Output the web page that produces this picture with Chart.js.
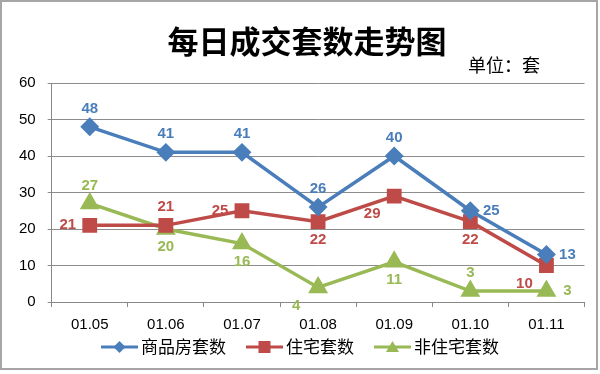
<!DOCTYPE html>
<html>
<head>
<meta charset="utf-8">
<script src="https://cdn.jsdelivr.net/npm/chart.js@4"></script>
<style>
  body { margin: 0; background: #fff; }
  #wrap { width: 598px; height: 370px; box-sizing: border-box; border: 2px solid #a6a6a6; background: #fff; }
</style>
</head>
<body>
<div id="wrap"><canvas id="myChart" width="594" height="366"></canvas></div>
<script>
var categories = ["01.05", "01.06", "01.07", "01.08", "01.09", "01.10", "01.11"];
var shangpinfang = [48, 41, 41, 26, 40, 25, 13];
var zhuzhai = [21, 21, 25, 22, 29, 22, 10];
var feizhuzhai = [27, 20, 16, 4, 11, 3, 3];
var yTicks = [0, 10, 20, 30, 40, 50, 60];

// where each data label sits: a = above, b = below, l = left, r = right
var labelPos = [
  ["a", "a", "a", "a", "a", "r", "r"],
  ["l", "a", "l", "b", "bl", "b", "bl"],
  ["a", "b", "b", "bl", "b", "a", "r"]
];

var blue = "#4a7ebb", red = "#be4b48", green = "#98b954";
var font = "'Liberation Sans', Arial, sans-serif";
var cjk = "'Noto Sans CJK SC', sans-serif";

function drawMarker(ctx, style, x, y) {
  ctx.beginPath();
  if (style == "rectRot") {
    ctx.moveTo(x, y - 6); ctx.lineTo(x + 6, y); ctx.lineTo(x, y + 6); ctx.lineTo(x - 6, y);
  } else if (style == "rect") {
    ctx.rect(x - 6, y - 6, 12, 12);
  } else {
    ctx.moveTo(x, y - 6); ctx.lineTo(x + 6.5, y + 5); ctx.lineTo(x - 6.5, y + 5);
  }
  ctx.closePath(); ctx.fill();
}

var labelPlugin = {
  id: "pointLabels",
  afterDatasetsDraw: function(chart) {
    var ctx = chart.ctx;
    ctx.save();
    ctx.font = "bold 15px " + font;
    ctx.textAlign = "center";
    ctx.textBaseline = "middle";
    chart.data.datasets.forEach(function(ds, i) {
      var meta = chart.getDatasetMeta(i);
      ctx.fillStyle = ds.borderColor;
      meta.data.forEach(function(pt, j) {
        var p = labelPos[i][j], x = pt.x, y = pt.y;
        if (p.indexOf("a") >= 0) y -= 18;
        if (p.indexOf("b") >= 0) y += 18;
        if (p.indexOf("l") >= 0) x -= 22;
        if (p.indexOf("r") >= 0) x += 21;
        ctx.fillText(ds.data[j], x, y);
      });
    });
    ctx.restore();
  }
};

// title, unit note and the line+marker legend at the bottom
var textPlugin = {
  id: "titleLegend",
  afterDraw: function(chart) {
    var ctx = chart.ctx;
    ctx.save();
    ctx.fillStyle = "#000";
    ctx.textBaseline = "middle";
    ctx.textAlign = "center";
    ctx.font = "bold 31px " + cjk;
    ctx.fillText("每日成交套数走势图", 305, 39);
    ctx.textAlign = "left";
    ctx.font = "18px " + cjk;
    ctx.fillText("单位：套", 466, 63);

    ctx.font = "17px " + cjk;
    var ds = chart.data.datasets;
    var iconW = 37, gap = 3, itemGap = 20;
    var total = 0;
    ds.forEach(function(d, i) {
      total += iconW + gap + ctx.measureText(d.label).width + (i < ds.length - 1 ? itemGap : 0);
    });
    var x = 298 - total / 2, y = 345;
    ds.forEach(function(d) {
      ctx.strokeStyle = d.borderColor;
      ctx.fillStyle = d.borderColor;
      ctx.lineWidth = 3;
      ctx.beginPath(); ctx.moveTo(x, y); ctx.lineTo(x + iconW, y); ctx.stroke();
      drawMarker(ctx, d.pointStyle, x + iconW / 2, y);
      x += iconW + gap;
      ctx.fillStyle = "#000";
      ctx.fillText(d.label, x, y);
      x += ctx.measureText(d.label).width + itemGap;
    });
    ctx.restore();
  }
};

var data = {
  labels: categories,
  datasets: [
    {
      label: "商品房套数",
      data: shangpinfang,
      borderColor: blue,
      backgroundColor: blue,
      borderWidth: 3.5,
      pointStyle: "rectRot",
      pointRadius: 7,
      pointHoverRadius: 7,
    },
    {
      label: "住宅套数",
      data: zhuzhai,
      borderColor: red,
      backgroundColor: red,
      borderWidth: 3.5,
      pointStyle: "rect",
      pointRadius: 8,
      pointHoverRadius: 8,
    },
    {
      label: "非住宅套数",
      data: feizhuzhai,
      borderColor: green,
      backgroundColor: green,
      borderWidth: 3.5,
      pointStyle: "triangle",
      pointRadius: 8,
      pointHoverRadius: 8,
    },
  ],
};

var options = {
  responsive: false,
  animation: false,
  layout: { padding: { top: 81, left: 5, right: 9, bottom: 32 } },
  scales: {
    x: {
      offset: true,
      afterFit: function(axis) { axis.height = 34; },
      grid: { offset: true, drawOnChartArea: false, color: "#888", tickLength: 5 },
      border: { color: "#888", width: 1 },
      ticks: { color: "#000", font: { size: 15, family: font }, padding: 9, maxRotation: 0 },
    },
    y: {
      min: 0,
      max: 60,
      afterBuildTicks: function(axis) {
        axis.ticks = yTicks.map(function(v) { return { value: v }; });
      },
      grid: { color: "#8c8c8c", lineWidth: 1, tickLength: 4 },
      border: { color: "#888", width: 1 },
      ticks: { color: "#000", font: { size: 15, family: font }, padding: 12 },
    },
  },
  plugins: {
    title: { display: false },
    legend: { display: false },
    tooltip: { enabled: false },
  },
};

var lineChart = new Chart(document.getElementById("myChart"), {
  type: "line",
  data: data,
  options: options,
  plugins: [labelPlugin, textPlugin],
});
</script>
</body>
</html>
